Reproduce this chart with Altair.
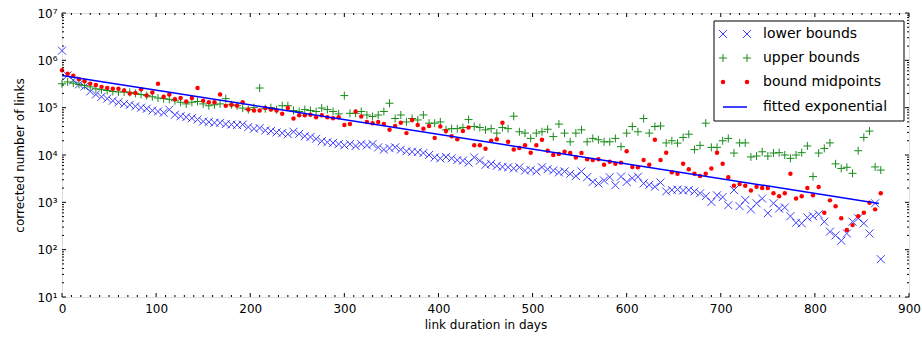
import altair as alt
import pandas as pd

# ---------------- data ----------------
days = [0, 6, 12, 18, 24, 30, 36, 42, 48, 54, 60, 66, 72, 78, 84, 90, 96, 102, 108, 114,
        120, 126, 132, 138, 144, 150, 156, 162, 168, 174, 180, 186, 192, 198, 204, 210, 216,
        222, 228, 234, 240, 246, 252, 258, 264, 270, 276, 282, 288, 294, 300, 306, 312, 318,
        324, 330, 336, 342, 348, 354, 360, 366, 372, 378, 384, 390, 396, 402, 408, 414, 420,
        426, 432, 438, 444, 450, 456, 462, 468, 474, 480, 486, 492, 498, 504, 510, 516, 522,
        528, 534, 540, 546, 552, 558, 564, 570, 576, 582, 588, 594, 600, 606, 612, 618, 624,
        630, 636, 642, 648, 654, 660, 666, 672, 678, 684, 690, 696, 702, 708, 714, 720, 726,
        732, 738, 744, 750, 756, 762, 768, 774, 780, 786, 792, 798, 804, 810, 816, 822, 828,
        834, 840, 846, 852, 858, 864, 870]

lower_bounds = [
    1.6e6, 4.8e5, 3.8e5, 3.1e5, 2.8e5, 2.2e5, 1.9e5, 1.7e5, 1.55e5, 1.4e5, 1.3e5, 1.2e5,
    1.15e5, 1.07e5, 1.0e5, 9.5e4, 8.7e4, 8.3e4, 7.8e4, 9.1e4, 7.1e4, 6.6e4, 6.3e4, 6.0e4,
    5.6e4, 5.1e4, 5.0e4, 4.8e4, 4.8e4, 4.5e4, 4.4e4, 4.3e4, 4.4e4, 3.9e4, 3.6e4, 3.7e4,
    3.3e4, 3.2e4, 3.0e4, 2.9e4, 2.75e4, 3.1e4, 2.8e4, 2.5e4, 2.4e4, 2.2e4, 1.95e4, 1.86e4,
    1.8e4, 1.7e4, 1.6e4,
    1.7e4, 1.55e4, 1.7e4, 1.6e4, 1.7e4, 1.45e4, 1.3e4, 1.4e4, 1.45e4, 1.3e4, 1.2e4, 1.17e4,
    1.15e4, 1.1e4, 1.0e4, 8.9e3, 8.5e3, 9.1e3, 8.5e3, 7.8e3, 7.6e3, 6.9e3, 8.9e3, 7.6e3,
    6.2e3, 6.5e3, 5.9e3, 5.6e3, 5.5e3, 5.2e3, 5.5e3, 4.7e3, 4.8e3, 4.5e3, 5.5e3, 5.0e3,
    4.7e3, 4.3e3, 4.5e3, 4.0e3, 3.6e3, 4.5e3, 3.4e3, 2.7e3, 2.5e3, 2.9e3, 3.4e3, 2.3e3,
    3.5e3, 2.7e3,
    3240, 3470, 2510, 2340, 2140, 2630, 1700, 1820, 1860, 1780, 1820, 1700, 1550, 1350,
    1020, 1410, 1290, 870, 1820, 830, 1120, 710, 955, 1200, 590, 955, 740, 780, 510, 370,
    360, 480, 510, 560, 390, 240, 200, 155, 220, 390, 460, 360, 220, 955, 63]

upper_bounds = [
    3.2e5, 3.5e5, 3.3e5, 3.1e5, 2.95e5, 2.75e5, 2.5e5, 2.4e5, 2.3e5, 2.2e5, 2.15e5, 2.15e5,
    2.1e5, 2.0e5, 1.9e5, 1.8e5, 1.7e5, 1.6e5, 1.55e5, 1.5e5, 1.4e5, 1.3e5, 1.2e5, 1.3e5,
    1.35e5, 1.2e5, 1.1e5, 1.15e5, 1.2e5, 1.55e5, 1.15e5, 1.1e5, 9.8e4, 9.1e4, 1.0e5, 2.6e5,
    9.5e4, 1.0e5, 9.1e4, 1.1e5, 1.1e5, 8.7e4, 8.3e4, 9.1e4, 8.7e4, 8.3e4, 9.8e4, 9.1e4,
    8.3e4, 7.4e4, 1.8e5,
    7.6e4, 7.6e4, 8.3e4, 7.0e4, 6.5e4, 7.0e4, 8.3e4, 1.24e5, 5.9e4, 7.0e4, 5.0e4, 5.9e4,
    5.5e4, 7.0e4, 4.7e4, 4.7e4, 5.0e4, 3.4e4, 3.6e4, 3.6e4, 3.8e4, 5.6e4, 4.0e4, 3.8e4,
    3.4e4, 3.6e4, 2.9e4, 3.8e4, 3.6e4, 6.6e4, 3.1e4, 2.9e4, 2.24e4, 2.9e4, 3.1e4, 3.5e4,
    2.45e4, 4.5e4, 2.9e4, 1.9e4, 2.9e4, 3.4e4, 1.9e4, 2.24e4, 2.1e4, 1.9e4, 1.9e4, 2.24e4,
    1.5e4, 2.9e4,
    4.0e4, 3.1e4, 5.9e4, 2.9e4, 4.0e4, 4.1e4, 1.8e4, 2.0e4, 1.78e4, 2.35e4, 2.75e4, 1.3e4,
    1.6e4, 4.7e4, 1.45e4, 1.45e4, 2.0e4, 2.24e4, 1.1e4, 1.8e4, 1.8e4, 9.1e3, 9.5e3, 1.17e4,
    9.5e3, 1.1e4, 1.12e4, 1.0e4, 8.5e3, 1.0e4, 1.12e4, 1.55e4, 3.5e3, 1.1e4, 1.38e4, 1.8e4,
    6.5e3, 5.2e3, 5.5e3, 4.1e3, 1.23e4, 2.35e4, 3.2e4, 5.6e3, 4.8e3]

bound_midpoints = [
    6.2e5, 5.2e5, 4.7e5, 4.0e5, 3.6e5, 3.2e5, 3.0e5, 2.75e5, 2.6e5, 2.5e5, 2.5e5, 2.3e5,
    2.0e5, 2.05e5, 2.45e5, 1.8e5, 2.1e5, 3.2e5, 1.7e5, 1.9e5, 1.5e5, 1.6e5, 1.35e5, 1.6e5,
    2.6e5, 1.4e5, 1.3e5, 1.3e5, 1.9e5, 1.1e5, 1.15e5, 1.1e5, 1.3e5, 9.1e4, 8.7e4, 8.7e4,
    9.8e4, 9.1e4, 8.7e4, 7.4e4, 9.8e4, 5.9e4, 6.9e4, 6.9e4, 7.1e4, 6.3e4, 6.9e4, 6.3e4,
    6.0e4, 6.3e4, 4.3e4,
    4.5e4, 8.3e4, 6.5e4, 5.0e4, 4.7e4, 5.0e4, 4.5e4, 3.4e4, 4.1e4, 4.8e4, 2.9e4, 5.5e4,
    4.3e4, 3.6e4, 4.1e4, 2.3e4, 4.0e4, 3.2e4, 2.5e4, 2.15e4, 3.2e4, 3.8e4, 1.6e4, 1.6e4,
    1.35e4, 2.0e4, 2.15e4, 4.8e4, 1.9e4, 1.3e4, 1.4e4, 1.6e4, 1.12e4, 1.6e4, 2.1e4, 1.23e4,
    1.0e4, 1.05e4, 1.17e4, 1.1e4, 8.9e3, 1.1e4, 8.1e3, 7.8e3, 8.1e3, 6.2e3, 7.2e3, 6.5e3,
    6.9e3, 1.2e4,
    5.6e3, 5.5e3, 7.8e3, 6.2e3, 2.1e4, 7.8e3, 1.12e4, 4.3e3, 4.0e3, 6.5e3, 5.0e3, 4.0e3,
    3.6e3, 4.0e3, 5.2e3, 1.12e4, 6.5e3, 3.4e3, 2.24e3, 2.45e3, 2.24e3, 1.78e3, 2.14e3, 2.0e3,
    2.0e3, 1.55e3, 1.35e3, 1.55e3, 4.0e3, 1.2e3, 1.35e3, 2.0e3, 1.41e3, 2.1e3, 600, 1.1e3,
    830, 460, 260, 330, 510, 600, 980, 710, 1.55e3]

fit_days = [0, 868]
fit_values = [4.8e5, 9.5e2]

x_ticks = [0, 100, 200, 300, 400, 500, 600, 700, 800, 900]
y_ticks = [1e1, 1e2, 1e3, 1e4, 1e5, 1e6, 1e7]
legend_labels = ["lower bounds", "upper bounds", "bound midpoints", "fitted exponential"]

# ---------------- layout / style ----------------
W, H = 847, 284
FONT = "DejaVu Sans"
X_PATH = "M-1,-1L1,1M-1,1L1,-1"
PLUS_PATH = "M-1,0L1,0M0,-1L0,1"
BLUE, GREEN, RED = "#0000ff", "#008000", "#ff0000"

xsc = alt.Scale(domain=[0, 900], nice=False, zero=False)
ysc = alt.Scale(type="log", domain=[10, 1e7], nice=False)

xaxis = alt.Axis(values=x_ticks, format="d", ticks=False, domain=False, grid=False,
                 title="link duration in days", labelFontSize=12, titleFontSize=12,
                 titleFontWeight="normal", labelPadding=6, titlePadding=5,
                 labelFlush=False, labelOverlap=False, labelColor="black",
                 titleColor="black", labelFont=FONT, titleFont=FONT)
yaxis = alt.Axis(values=y_ticks, ticks=False, domain=False, grid=False,
                 labelExpr="'10' + ['⁰','¹','²','³','⁴','⁵','⁶','⁷'][round(log(datum.value)/LN10)]",
                 title="corrected number of links", labelFontSize=12, titleFontSize=12,
                 titleFontWeight="normal", labelPadding=5, titlePadding=10,
                 labelFlush=False, labelOverlap=False, labelColor="black",
                 titleColor="black", labelFont=FONT, titleFont=FONT)

df = pd.DataFrame({"day": days, "lower": lower_bounds, "upper": upper_bounds,
                   "mid": bound_midpoints})
fit_df = pd.DataFrame({"day": fit_days, "value": fit_values})

X = alt.X("day:Q", scale=xsc, axis=xaxis)

lower_layer = alt.Chart(df).mark_point(shape=X_PATH, filled=False, stroke=BLUE,
                                       strokeWidth=1, size=64, opacity=0.75).encode(
    x=X, y=alt.Y("lower:Q", scale=ysc, axis=yaxis))
upper_layer = alt.Chart(df).mark_point(shape=PLUS_PATH, filled=False, stroke=GREEN,
                                       strokeWidth=1, size=64, opacity=0.9).encode(
    x=X, y=alt.Y("upper:Q", scale=ysc, axis=yaxis))
mid_layer = alt.Chart(df).mark_circle(color=RED, size=20, opacity=1).encode(
    x=X, y=alt.Y("mid:Q", scale=ysc, axis=yaxis))
fit_layer = alt.Chart(fit_df).mark_line(color=BLUE, strokeWidth=1.5).encode(
    x=X, y=alt.Y("value:Q", scale=ysc, axis=yaxis))

# ---------------- inward ticks on all four sides ----------------
y_minor = [m * d for d in y_ticks[:-1] for m in range(2, 10)]
x_minor = [v for v in range(10, 900, 10) if v % 100 != 0]

tick_layers = []
for vals, ln in [(y_ticks, 4), (y_minor, 2)]:
    tdf = pd.DataFrame({"v": vals})
    base = alt.Chart(tdf).mark_rule(color="black", strokeWidth=1)
    Y = alt.Y("v:Q", scale=ysc, axis=yaxis)
    tick_layers.append(base.encode(y=Y, x=alt.value(0), x2=alt.value(ln)))
    tick_layers.append(base.encode(y=Y, x=alt.value(W - ln), x2=alt.value(W)))
for vals, ln in [(x_ticks, 4), (x_minor, 2)]:
    tdf = pd.DataFrame({"v": vals})
    base = alt.Chart(tdf).mark_rule(color="black", strokeWidth=1)
    XX = alt.X("v:Q", scale=xsc, axis=xaxis)
    tick_layers.append(base.encode(x=XX, y=alt.value(H - ln), y2=alt.value(H)))
    tick_layers.append(base.encode(x=XX, y=alt.value(0), y2=alt.value(ln)))

# ---------------- legend ----------------
one = pd.DataFrame({"a": [0]})
LX0, LX1, LY0, LY1 = 652, 842, 8, 108
rows_y = [21, 45, 69, 94]
sym_x = [661, 685]
legend_layers = [alt.Chart(one).mark_rect(fill="white", stroke="black", strokeWidth=1).encode(
    x=alt.value(LX0), x2=alt.value(LX1), y=alt.value(LY0), y2=alt.value(LY1))]
for sx in sym_x:
    legend_layers.append(alt.Chart(one).mark_point(shape=X_PATH, filled=False, stroke=BLUE,
                                                   strokeWidth=1, size=64, opacity=0.75).encode(
        x=alt.value(sx), y=alt.value(rows_y[0])))
    legend_layers.append(alt.Chart(one).mark_point(shape=PLUS_PATH, filled=False, stroke=GREEN,
                                                   strokeWidth=1, size=64, opacity=0.9).encode(
        x=alt.value(sx), y=alt.value(rows_y[1])))
    legend_layers.append(alt.Chart(one).mark_circle(color=RED, size=20, opacity=1).encode(
        x=alt.value(sx), y=alt.value(rows_y[2])))
legend_layers.append(alt.Chart(one).mark_rule(color=BLUE, strokeWidth=1.5).encode(
    x=alt.value(sym_x[0]), x2=alt.value(sym_x[1]), y=alt.value(rows_y[3])))
for label, ry in zip(legend_labels, rows_y):
    legend_layers.append(alt.Chart(one).mark_text(align="left", baseline="middle", fontSize=14,
                                                  font=FONT, color="black").encode(
        x=alt.value(701), y=alt.value(ry), text=alt.value(label)))

chart = alt.layer(
    lower_layer, upper_layer, mid_layer, fit_layer, *tick_layers, *legend_layers
).properties(
    width=W, height=H,
    padding={"left": 62, "top": 13, "right": 13, "bottom": 41},
    autosize=alt.AutoSizeParams(type="none"),
    background="white",
).configure_view(stroke="black", strokeWidth=1).configure(font=FONT)

chart.save("out.html", embed_options={"renderer": "svg", "actions": False})
